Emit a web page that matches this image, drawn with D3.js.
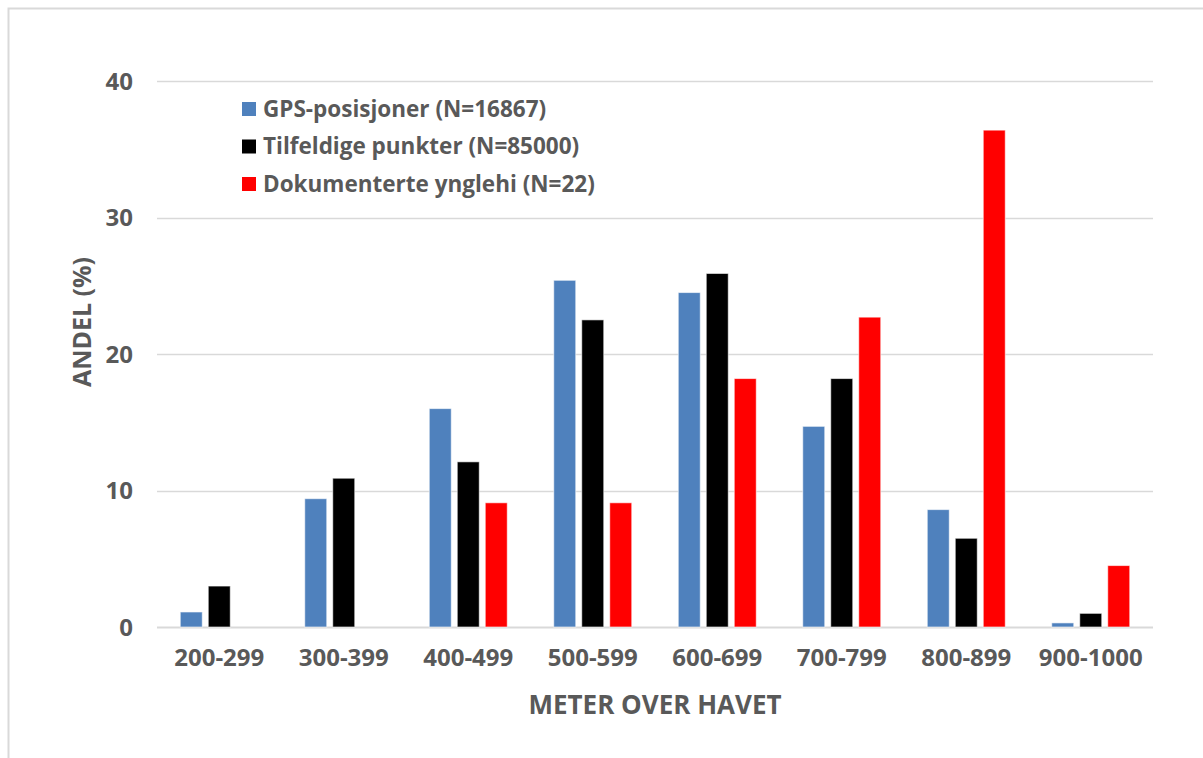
<!DOCTYPE html>
<html>
<head>
<meta charset="utf-8">
<script src="https://cdn.jsdelivr.net/npm/d3@7"></script>
<style>
  body { margin: 0; background: #fff; }
  text { font-family: "Open Sans", "Liberation Sans", sans-serif; font-weight: 700; fill: #595959; }
</style>
</head>
<body>
<script>
// data
const categories = ["200-299", "300-399", "400-499", "500-599", "600-699", "700-799", "800-899", "900-1000"];
const seriesNames = ["GPS-posisjoner (N=16867)", "Tilfeldige punkter (N=85000)", "Dokumenterte ynglehi (N=22)"];
const gps = [1.1, 9.4, 16.0, 25.4, 24.5, 14.7, 8.6, 0.3];
const tilfeldige = [3.0, 10.9, 12.1, 22.5, 25.9, 18.2, 6.5, 1.0];
const ynglehi = [0, 0, 9.1, 9.1, 18.2, 22.7, 36.4, 4.5];
const yTicks = [0, 10, 20, 30, 40];
const colors = ["#4f81bd", "#000000", "#ff0000"];

const allSeries = [gps, tilfeldige, ynglehi];

const width = 1203, height = 758;
const margin = {left: 157, right: 50, top: 81, bottom: 131};

const svg = d3.select("body").append("svg")
    .attr("width", width)
    .attr("height", height);

// chart border
svg.append("path")
    .attr("d", `M8.5,${height} V8.5 H${width}`)
    .attr("fill", "none")
    .attr("stroke", "#d9d9d9")
    .attr("stroke-width", 2);

const x0 = d3.scaleBand()
    .domain(categories)
    .range([margin.left, width - margin.right])
    .padding(0);

const x1 = d3.scaleBand()
    .domain(d3.range(seriesNames.length))
    .range([0, 78])
    .paddingInner(0.214);

const y = d3.scaleLinear()
    .domain([0, 40])
    .range([height - margin.bottom, margin.top]);

// gridlines
svg.append("g")
    .selectAll("line")
    .data(yTicks)
    .enter()
    .append("line")
    .attr("x1", margin.left)
    .attr("x2", width - margin.right)
    .attr("y1", d => Math.round(y(d)) + 0.5)
    .attr("y2", d => Math.round(y(d)) + 0.5)
    .attr("stroke", "#d9d9d9")
    .attr("stroke-width", d => d === 0 ? 2 : 1.5);

// y tick labels
const yAxis = svg.append("g")
    .attr("transform", `translate(${margin.left - 24},0)`)
    .call(d3.axisLeft(y).tickValues(yTicks).tickSize(0).tickPadding(0));
yAxis.select(".domain").remove();
yAxis.selectAll("text")
    .style("font-size", "24px")
    .attr("fill", "#595959")
    .attr("dy", "0.35em");

// x tick labels
const xAxis = svg.append("g")
    .attr("transform", `translate(0,${y(0) + 22})`)
    .call(d3.axisBottom(x0).tickSize(0).tickPadding(0));
xAxis.select(".domain").remove();
xAxis.selectAll("text")
    .style("font-size", "24px")
    .attr("fill", "#595959")
    .attr("dy", "0.71em");

// bars
const groups = svg.append("g")
    .selectAll("g")
    .data(categories)
    .enter()
    .append("g")
    .attr("transform", d => `translate(${x0(d) + (x0.bandwidth() - 78) / 2},0)`);

groups.selectAll("rect")
    .data((d, i) => allSeries.map((s, j) => ({ j: j, v: s[i] })))
    .enter()
    .append("rect")
    .filter(d => d.v > 0)
    .attr("x", d => x1(d.j))
    .attr("width", x1.bandwidth())
    .attr("y", d => y(d.v))
    .attr("height", d => y(0) - y(d.v))
    .attr("fill", d => colors[d.j])
    .attr("stroke", "#ffffff")
    .attr("stroke-opacity", 0.6)
    .attr("stroke-width", 1);

// axis titles
svg.append("text")
    .attr("x", (margin.left + width - margin.right) / 2)
    .attr("y", 714)
    .attr("text-anchor", "middle")
    .style("font-size", "26px")
    .text("METER OVER HAVET");

svg.append("text")
    .attr("transform", "translate(91,322) rotate(-90)")
    .attr("text-anchor", "middle")
    .style("font-size", "25px")
    .text("ANDEL (%)");

// legend
const legend = svg.append("g")
    .selectAll("g")
    .data(seriesNames)
    .enter()
    .append("g")
    .attr("transform", (d, i) => `translate(242,${109 + i * 37.5})`);

legend.append("rect")
    .attr("x", 0)
    .attr("y", -7)
    .attr("width", 14)
    .attr("height", 14)
    .attr("fill", (d, i) => colors[i]);

legend.append("text")
    .attr("x", 21)
    .attr("dy", "0.35em")
    .style("font-size", "22.5px")
    .text(d => d);
</script>
</body>
</html>
